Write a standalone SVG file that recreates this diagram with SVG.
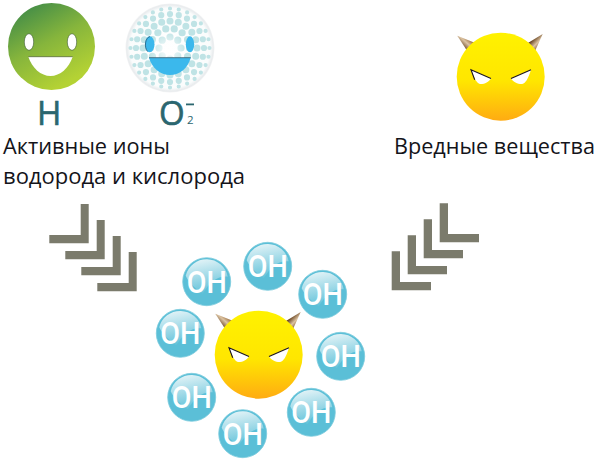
<svg xmlns="http://www.w3.org/2000/svg" width="600" height="472" viewBox="0 0 600 472">
<style>
.label{font-family:"Open Sans","Noto Sans",sans-serif;font-size:21.5px;fill:#14141a}
.sym{font-family:"Open Sans","Noto Sans",sans-serif;font-size:33px;fill:#2b666f;stroke:#2b666f;stroke-width:.6}
.oh{font-family:Roboto,"Noto Sans",sans-serif;font-weight:500;font-size:31px;fill:#fff;text-anchor:middle}
.chev{fill:#7b7b6c}
.ring{fill:none;stroke:#bfe3e5;stroke-linecap:round;stroke-dasharray:0 1}
</style>
<defs>
<linearGradient id="green" x1="0.2" y1="0" x2="0.7" y2="0.9"><stop offset="0" stop-color="#3f8a48"/><stop offset="0.5" stop-color="#86b53c"/><stop offset="1" stop-color="#b4d234"/></linearGradient>
<linearGradient id="yellow" x1="0" y1="0" x2="0" y2="1"><stop offset="0" stop-color="#fff200"/><stop offset="0.55" stop-color="#ffe600"/><stop offset="1" stop-color="#ffab12"/></linearGradient>
<linearGradient id="hornL" gradientUnits="userSpaceOnUse" x1="-36" y1="-26" x2="-28" y2="-35"><stop offset="0" stop-color="#5a3410"/><stop offset="0.6" stop-color="#dcc3a2"/><stop offset="1" stop-color="#9a6e3e"/></linearGradient>
<linearGradient id="hornR" gradientUnits="userSpaceOnUse" x1="28" y1="-34" x2="36" y2="-26"><stop offset="0" stop-color="#5a3410"/><stop offset="0.55" stop-color="#dcc3a2"/><stop offset="1" stop-color="#7a5026"/></linearGradient>
<linearGradient id="shine" x1="0.35" y1="0" x2="0.6" y2="1"><stop offset="0" stop-color="#e2f3f7"/><stop offset="1" stop-color="#5bbfd7"/></linearGradient>
<radialGradient id="ballFade" cx="0.5" cy="0.5" r="0.5"><stop offset="0" stop-color="#fff"/><stop offset="0.9" stop-color="#fafcfc"/><stop offset="0.97" stop-color="#e9ecee"/><stop offset="1" stop-color="#f2f3f4"/></radialGradient>
<radialGradient id="ballGlow" cx="0.5" cy="0.5" r="0.5"><stop offset="0" stop-color="#fff" stop-opacity="0.95"/><stop offset="0.45" stop-color="#fff" stop-opacity="0.5"/><stop offset="1" stop-color="#fff" stop-opacity="0"/></radialGradient>
<g id="devil">
<path d="M-43.4-41L-33-25-26-34Z" fill="url(#hornL)"/>
<path d="M42-42.7L26-33 34-25Z" fill="url(#hornR)"/>
<circle r="44" fill="url(#yellow)"/>
<path d="M-29.7-7L-9.7 1.7C-12 5-16 7.5-20.7 7.3-24 6-26 3-29.7-7Z" fill="#fff"/>
<path d="M-26 3L-29.7-7-9.7 1.7" stroke="#1a1420" stroke-width="1.1" fill="none"/>
<path d="M30.3-7L10.3 1.7C12.5 5 17 7.5 21.5 7.3 25 6 27 3 30.3-7Z" fill="#fff"/>
<path d="M30.3-7L10.3 1.7" stroke="#1a1420" stroke-width="1.1" fill="none"/>
</g>
<g id="ohBall">
<circle r="24" fill="#5bbfd7" stroke="#7ccbdd" stroke-width=".8"/>
<path d="M-21-6A21.5 21.5 0 0 1 21-5C10-6 3 1-4 12-12 6-18 1-21-6Z" fill="url(#shine)"/>
</g>
<path id="chevL" d="M80.7 204H88.7V243.3H49.3V235H80.7Z"/>
<path id="chevR" d="M439.7 203.3H448V234H479V242.3H439.7Z"/>
</defs>

<g id="node-hydrogen">
<circle cx="51.5" cy="46.5" r="43.5" fill="url(#green)"/>
<ellipse cx="29" cy="42" rx="4.7" ry="8.3" fill="#fff" stroke="#3d5a34" stroke-width=".6"/>
<ellipse cx="72" cy="42" rx="4.7" ry="8.3" fill="#fff" stroke="#3d5a34" stroke-width=".6"/>
<path d="M28.3 56.7H72.7C69 68 60 76 50.5 76 41 76 32 68 28.3 56.7Z" fill="#fff"/>
<path d="M28.3 56.7H72.7" stroke="#4a5a34" stroke-width=".7"/>
<text class="sym" x="37" y="125">H</text>
</g>

<g id="node-oxygen">
<circle cx="170" cy="48" r="44.5" fill="url(#ballFade)"/>
<!-- dimples laid out as rings, shrinking toward the rim -->
<circle class="ring" cx="170" cy="48" r="39.5" pathLength="28" stroke-width="4.2"/>
<circle class="ring" cx="170" cy="48" r="34" pathLength="24" stroke-width="6.2"/>
<circle class="ring" cx="170" cy="48" r="27" pathLength="20" stroke-width="7"/>
<circle class="ring" cx="170" cy="48" r="19.5" pathLength="14" stroke-width="7.2"/>
<circle class="ring" cx="170" cy="48" r="11" pathLength="8" stroke-width="7.2"/>
<circle cx="168" cy="50" r="19" fill="url(#ballGlow)"/>
<ellipse cx="149.7" cy="44.3" rx="4.8" ry="8" fill="#3bb8ec"/>
<path d="M147.5 51.5C144 47 145 38 150 36.5" fill="none" stroke="#2d5d78" stroke-width=".8"/>
<ellipse cx="190" cy="44.3" rx="4.2" ry="8" fill="#3bb8ec"/>
<path d="M149 57.7H190.7C188 68 180 75 170 75 160 75 152 68 149 57.7Z" fill="#3bb8ec"/>
<path d="M149 57.7H190.7" stroke="#33596a" stroke-width=".8"/>
<text class="sym" x="159" y="125">O</text>
<rect x="186" y="103.5" width="8" height="1.8" fill="#2b666f"/>
<text x="187" y="124.3" font-family="'Open Sans','Noto Sans',sans-serif" font-size="11.5" fill="#2b666f">2</text>
</g>

<g id="label-active">
<text class="label" x="3" y="154" textLength="167" lengthAdjust="spacingAndGlyphs">Активные ионы</text>
<text class="label" x="3" y="184" textLength="242" lengthAdjust="spacingAndGlyphs">водорода и кислорода</text>
</g>

<g id="node-harmful">
<use href="#devil" x="500.7" y="76.7"/>
<text class="label" x="394" y="154" textLength="201" lengthAdjust="spacingAndGlyphs">Вредные вещества</text>
</g>

<g id="connectors">
<g class="chev">
<use href="#chevL"/><use href="#chevL" x="16" y="16"/><use href="#chevL" x="32" y="32"/><use href="#chevL" x="48" y="48"/>
<use href="#chevR"/><use href="#chevR" x="-16" y="16"/><use href="#chevR" x="-32" y="32"/><use href="#chevR" x="-48" y="48"/>
</g>
</g>

<g id="node-neutralized">
<use href="#devil" x="258.7" y="354.7"/>
</g>
<g id="oh-1"><use href="#ohBall" x="206.7" y="281.7"/><text class="oh" x="206.7" y="292.8" textLength="40" lengthAdjust="spacingAndGlyphs">OH</text></g>
<g id="oh-2"><use href="#ohBall" x="267.7" y="266.3"/><text class="oh" x="267.7" y="277.4" textLength="40" lengthAdjust="spacingAndGlyphs">OH</text></g>
<g id="oh-3"><use href="#ohBall" x="322.7" y="294.3"/><text class="oh" x="322.7" y="305.4" textLength="40" lengthAdjust="spacingAndGlyphs">OH</text></g>
<g id="oh-4"><use href="#ohBall" x="180.3" y="333.3"/><text class="oh" x="180.3" y="344.4" textLength="40" lengthAdjust="spacingAndGlyphs">OH</text></g>
<g id="oh-5"><use href="#ohBall" x="340.7" y="356.3"/><text class="oh" x="340.7" y="367.4" textLength="40" lengthAdjust="spacingAndGlyphs">OH</text></g>
<g id="oh-6"><use href="#ohBall" x="191.7" y="397.3"/><text class="oh" x="191.7" y="408.4" textLength="40" lengthAdjust="spacingAndGlyphs">OH</text></g>
<g id="oh-7"><use href="#ohBall" x="311.3" y="412.3"/><text class="oh" x="311.3" y="423.4" textLength="40" lengthAdjust="spacingAndGlyphs">OH</text></g>
<g id="oh-8"><use href="#ohBall" x="242.7" y="433.7"/><text class="oh" x="242.7" y="444.8" textLength="40" lengthAdjust="spacingAndGlyphs">OH</text></g>
</svg>
